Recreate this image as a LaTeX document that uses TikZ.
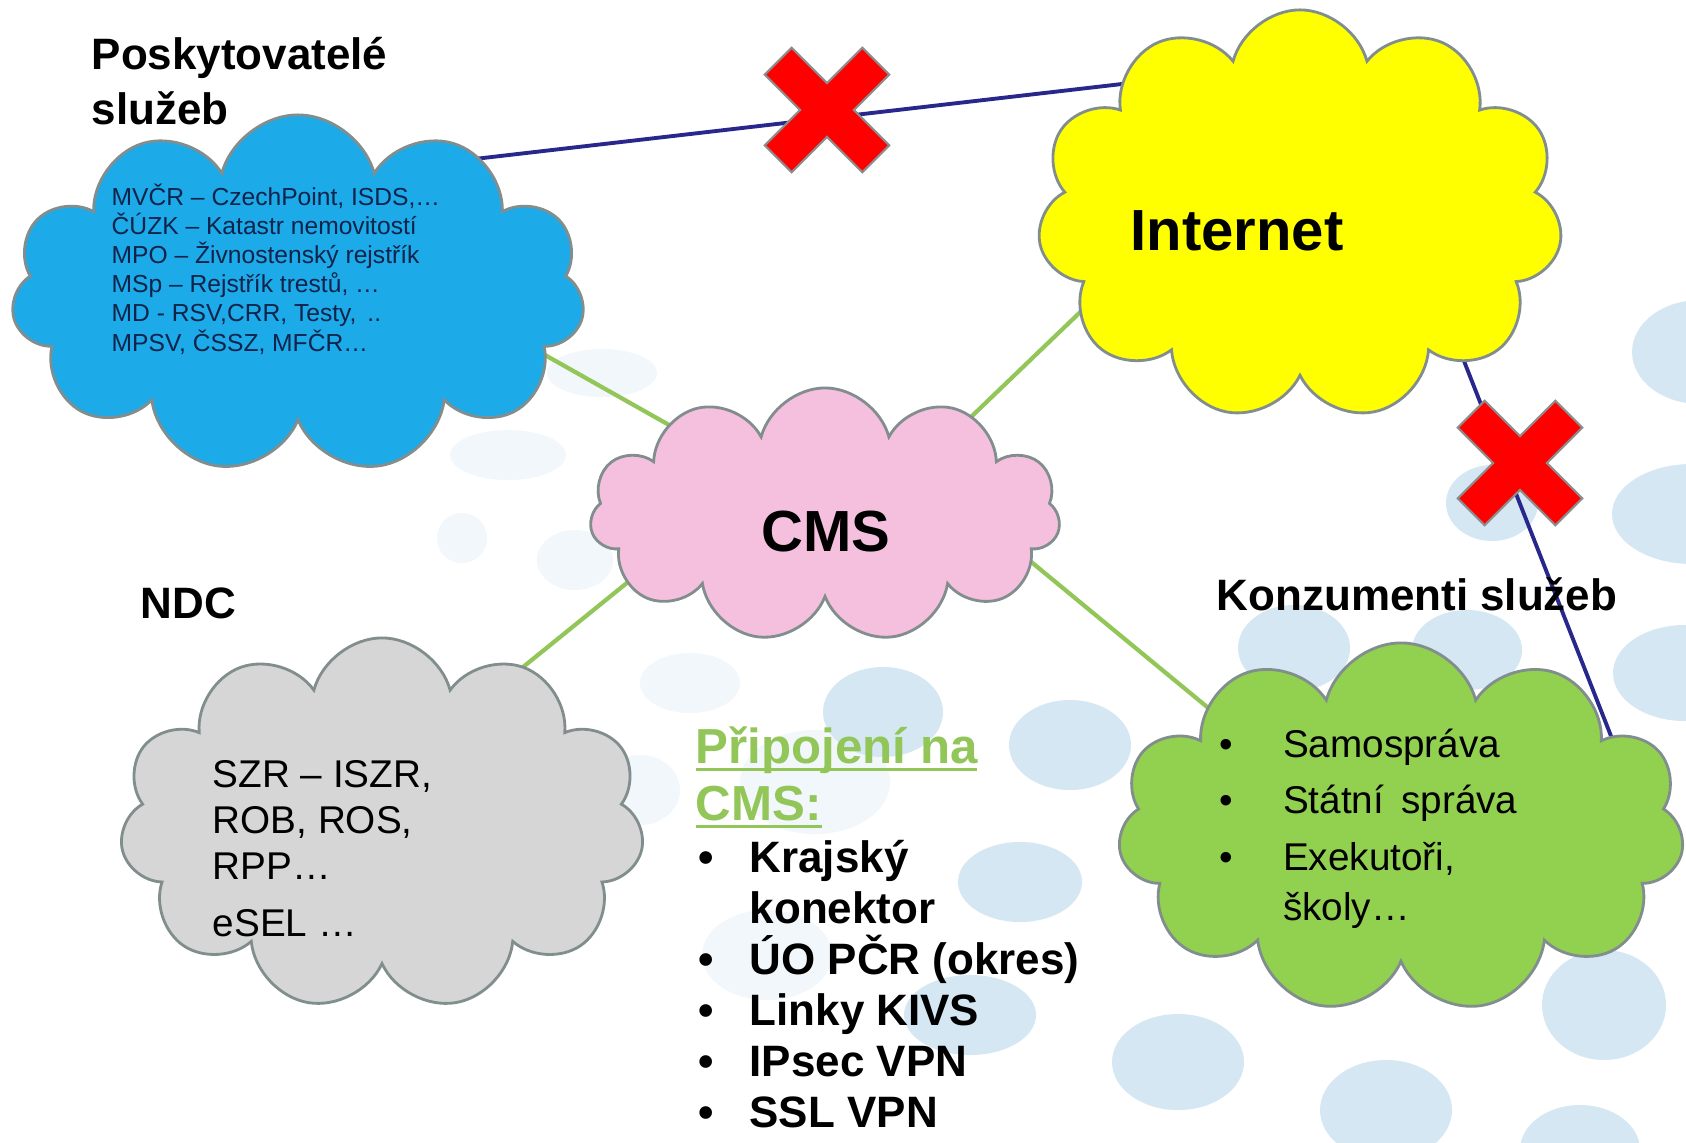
\documentclass[tikz,border=0pt]{standalone}
\usepackage{fontspec}
\setmainfont{Liberation Sans}
\usetikzlibrary{positioning, shapes.symbols}

\definecolor{provblue}{RGB}{28,170,232}
\definecolor{inetyellow}{RGB}{255,255,0}
\definecolor{cmspink}{RGB}{245,192,222}
\definecolor{ndcgrey}{RGB}{214,214,214}
\definecolor{consgreen}{RGB}{146,208,80}
\definecolor{cloudedge}{RGB}{130,142,142}
\definecolor{linkgreen}{RGB}{146,198,88}
\definecolor{linkblue}{RGB}{40,40,140}
\definecolor{dotblue}{RGB}{212,231,242}
\definecolor{faintdot}{RGB}{242,247,251}
\definecolor{provtext}{RGB}{15,35,75}
\definecolor{crossedge}{RGB}{140,140,140}

\pgfdeclarelayer{dots}
\pgfdeclarelayer{links}
\pgfsetlayers{dots,links,main}

% thick underline a little below the baseline
\newcommand\cmsul[1]{\setbox0\hbox{#1}\rlap{\rule[-2.3pt]{\wd0}{0.9pt}}\box0}

\begin{document}
\begin{tikzpicture}[
    x=0.01cm, y=-0.01cm, % one unit = one pixel of the slide
    % --- STYLES ---
    cloud_node/.style={cloud, cloud puffs=11, cloud ignores aspect, draw=cloudedge,
        line width=0.8pt, inner sep=0pt},
    head_text/.style={font=\fontsize{12.5}{15.4}\selectfont\bfseries, anchor=base west,
        inner sep=0pt, align=left},
    big_text/.style={font=\fontsize{16.5}{19}\selectfont\bfseries, anchor=base west, inner sep=0pt},
    list_text/.style={anchor=base west, inner sep=0pt, align=left}, % base = last line
    bg_dot/.style={fill=dotblue},
    faint_dot/.style={fill=faintdot},
    nogo/.style={fill=red, draw=crossedge, line width=0.6pt},
    blue_link/.style={draw=linkblue, line width=1.1pt},
    green_link/.style={draw=linkgreen, line width=1.2pt, shorten <=-6pt, shorten >=-6pt}
]

% --- BACKGROUND ---
\useasboundingbox (0,0) rectangle (1686,1142);
\begin{pgfonlayer}{dots}
\fill[white] (0,0) rectangle (1686,1142);
% pale bubbles of the slide
\foreach \x/\y/\rx/\ry in {602/373/55/24, 508/455/58/25, 462/538/25/25, 575/560/38/30,
    690/683/50/30, 815/782/75/52, 767/955/65/45, 640/790/40/35}
    \fill[faint_dot] (\x,\y) ellipse [x radius=\rx, y radius=\ry];
\foreach \x/\y/\rx/\ry in {1700/352/68/52, 1492/503/46/38, 1692/514/80/50, 1294/648/56/43,
    1467/650/55/40, 1685/673/72/48, 1070/745/61/45, 883/712/60/45, 1020/882/62/40,
    970/1015/66/40, 1178/1062/66/48, 1604/1005/62/55, 1580/1150/60/45, 1386/1110/66/50}
    \fill[bg_dot] (\x,\y) ellipse [x radius=\rx, y radius=\ry];
\end{pgfonlayer}

% --- CLOUDS ---
\node[cloud_node, fill=provblue, minimum width=5.73cm, minimum height=3.58cm] (prov) at (298,294) {};
\node[cloud_node, fill=inetyellow, minimum width=5.25cm, minimum height=4.1cm] (inet) at (1300,215) {};
\node[cloud_node, fill=cmspink, minimum width=4.7cm, minimum height=2.54cm] (cms) at (825,515) {};
\node[cloud_node, fill=ndcgrey, minimum width=5.24cm, minimum height=3.72cm] (ndc) at (382,824) {};
\node[cloud_node, fill=consgreen, minimum width=5.66cm, minimum height=3.7cm] (cons) at (1401,828) {};

% ports of the blocked links, tucked under the cloud borders
\coordinate (prov_port) at ([xshift=0.82cm, yshift=1.24cm]prov.center);
\coordinate (inet_west) at ([xshift=-1.6cm, yshift=1.33cm]inet.center);
\coordinate (inet_south) at ([xshift=1.4cm, yshift=-0.85cm]inet.center);
\coordinate (cons_port) at ([xshift=2.31cm, yshift=0.38cm]cons.center);

% --- LABELS ---
\node[head_text] (prov_title) at (91,124) {Poskytovatelé\\služeb};
\node[head_text] (ndc_title) at (140,618) {NDC};
\node[head_text] (cons_title) at (1216,610) {Konzumenti služeb};
\node[big_text] (inet_label) at (1130,250) {Internet};
\node[big_text] (cms_label) at (761,551) {CMS};

% services inside the blue cloud
\node[list_text, text=provtext, font=\fontsize{7}{8.3}\selectfont] (prov_list) at (111,351) {%
    MVČR – CzechPoint, ISDS,…\\ČÚZK – Katastr nemovitostí\\MPO – Živnostenský rejstřík\\%
    MSp – Rejstřík trestů, …\\MD - RSV,CRR, Testy, \,..\\MPSV, ČSSZ, MFČR…};
% registers inside the grey cloud
\node[list_text, font=\fontsize{11}{13.1}\selectfont] (ndc_list) at (212,936) {%
    SZR – ISZR,\\ROB, ROS,\\RPP…\\[3pt]eSEL …};
% consumers inside the green cloud
\node[list_text, font=\fontsize{11}{14.2}\selectfont] (cons_list) at (1219,920) {%
    \makebox[18pt][l]{•}Samospráva\\[1.8pt]\makebox[18pt][l]{•}Státní \,správa\\[1.8pt]%
    \makebox[18pt][l]{•}Exekutoři,\\\hspace*{18pt}školy…};

% connection types below CMS
\node[list_text, text=linkgreen, font=\fontsize{14}{16.2}\selectfont\bfseries] (conn_head) at (695,820) {%
    \cmsul{Připojení na}\\\cmsul{CMS:}};
\node[list_text, font=\fontsize{12.5}{14.5}\selectfont\bfseries] (conn_list) at (698,1127) {%
    \makebox[14.5pt][l]{•}Krajský\\\hspace*{14.5pt}konektor\\\makebox[14.5pt][l]{•}ÚO PČR (okres)\\%
    \makebox[14.5pt][l]{•}Linky KIVS\\\makebox[14.5pt][l]{•}IPsec VPN\\\makebox[14.5pt][l]{•}SSL VPN};

% --- CONNECTORS ---
\begin{pgfonlayer}{links}
\draw[blue_link] (prov_port) -- (inet_west);
\draw[blue_link] (inet_south) -- (cons_port);
\draw[green_link] (prov.-14) -- (cms.150);
\draw[green_link] (inet.204) -- (cms.34);
\draw[green_link] (cms.199) -- (ndc.48);
\draw[green_link] (cms.-13) -- (cons.148);
\end{pgfonlayer}

% --- CROSSES on the blocked links ---
\foreach \cx/\cy in {827/110, 1520/463}
    \filldraw[nogo, shift={(\cx,\cy)}, rotate=45]
        (-19,69) -- (19,69) -- (19,19) -- (69,19) -- (69,-19) -- (19,-19) -- (19,-69)
        -- (-19,-69) -- (-19,-19) -- (-69,-19) -- (-69,19) -- (-19,19) -- cycle;

\end{tikzpicture}
\end{document}
